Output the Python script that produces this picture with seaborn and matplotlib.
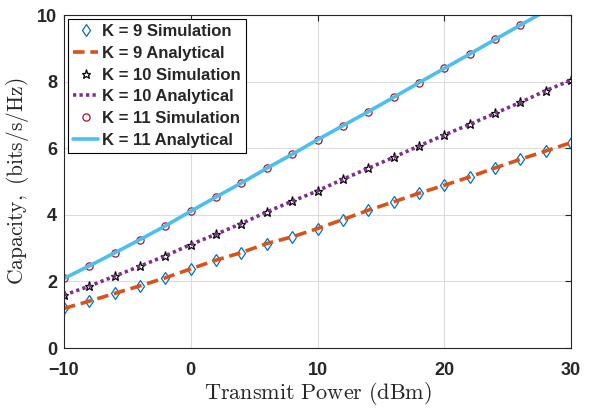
import numpy as np
import pandas as pd
import matplotlib
matplotlib.use("Agg")
import matplotlib.pyplot as plt
import seaborn as sns

power = [-10, -8, -6, -4, -2, 0, 2, 4, 6, 8, 10, 12, 14, 16, 18, 20, 22, 24, 26, 28, 30]
k9 = [1.19, 1.41, 1.64, 1.87, 2.11, 2.38, 2.64, 2.87, 3.14, 3.34, 3.59, 3.86, 4.14, 4.39, 4.65,
      4.89, 5.14, 5.41, 5.67, 5.92, 6.17]
k10 = [1.59, 1.86, 2.16, 2.46, 2.77, 3.11, 3.42, 3.74, 4.09, 4.41, 4.72, 5.07, 5.40, 5.73, 6.07,
       6.40, 6.72, 7.05, 7.38, 7.73, 8.05]
k11 = [2.09, 2.47, 2.86, 3.26, 3.67, 4.11, 4.54, 4.96, 5.40, 5.82, 6.26, 6.68, 7.10, 7.53, 7.97,
       8.40, 8.83, 9.27, 9.70, 10.13, 10.56]

sns.set_theme(style="white")
plt.rcParams["mathtext.fontset"] = "cm"
plt.rcParams["font.family"] = ["Liberation Sans", "DejaVu Sans"]

fig = plt.figure(figsize=(5.98, 4.09), dpi=100)
ax = fig.add_axes([0.107, 0.149, 0.848, 0.814])

series = [
    ("K = 9", k9, "d", 6.2, "#0072BD", "#D95319", (0, (3.2, 1.6))),
    ("K = 10", k10, "*", 6.5, "black", "#7E2F8E", (0, (0.9, 0.9))),
    ("K = 11", k11, "o", 5.2, "#A2142F", "#4DBEEE", "-"),
]
for name, vals, mk, ms, mc, lc, ls in series:
    df = pd.DataFrame({"p": power, "c": vals})
    sns.lineplot(data=df, x="p", y="c", ax=ax, linestyle="", marker=mk,
                 markersize=ms, markerfacecolor="none",
                 markeredgecolor=mc, markeredgewidth=0.9, color=mc,
                 label=f"{name} Simulation")
    sns.lineplot(data=df, x="p", y="c", ax=ax, linestyle=ls, linewidth=2.6,
                 color=lc, label=f"{name} Analytical")

ax.set_xlim(-10, 30)
ax.set_ylim(0, 10)
ax.set_xticks([-10, 0, 10, 20, 30])
ax.set_yticks([0, 2, 4, 6, 8, 10])
ax.grid(True, color="#dcdcdc", linewidth=0.8)
ax.tick_params(direction="in", length=4, width=0.8, top=True, right=True,
               labelsize=13, colors="#262626")
ax.tick_params(axis="x", pad=10)
ax.tick_params(axis="y", pad=5)
for lab in ax.get_xticklabels() + ax.get_yticklabels():
    lab.set_fontweight("bold")
for sp in ax.spines.values():
    sp.set_color("#262626")
    sp.set_linewidth(0.8)

ax.set_xlabel(r"$\mathrm{Transmit\ Power\ (dBm)}$", fontsize=16, color="#262626", labelpad=1)
ax.set_ylabel(r"$\mathrm{Capacity,\ (bits/s/Hz)}$", fontsize=15.5, color="#262626", labelpad=4)

leg = ax.legend(loc="upper left", prop={"weight": "bold", "size": 12},
                frameon=True, fancybox=False, edgecolor="black", framealpha=1,
                handlelength=1.5, handletextpad=0.25, labelspacing=0.4,
                borderpad=0.3, borderaxespad=0.25)
leg.get_frame().set_linewidth(0.8)

fig.savefig("out.png", dpi=100)
